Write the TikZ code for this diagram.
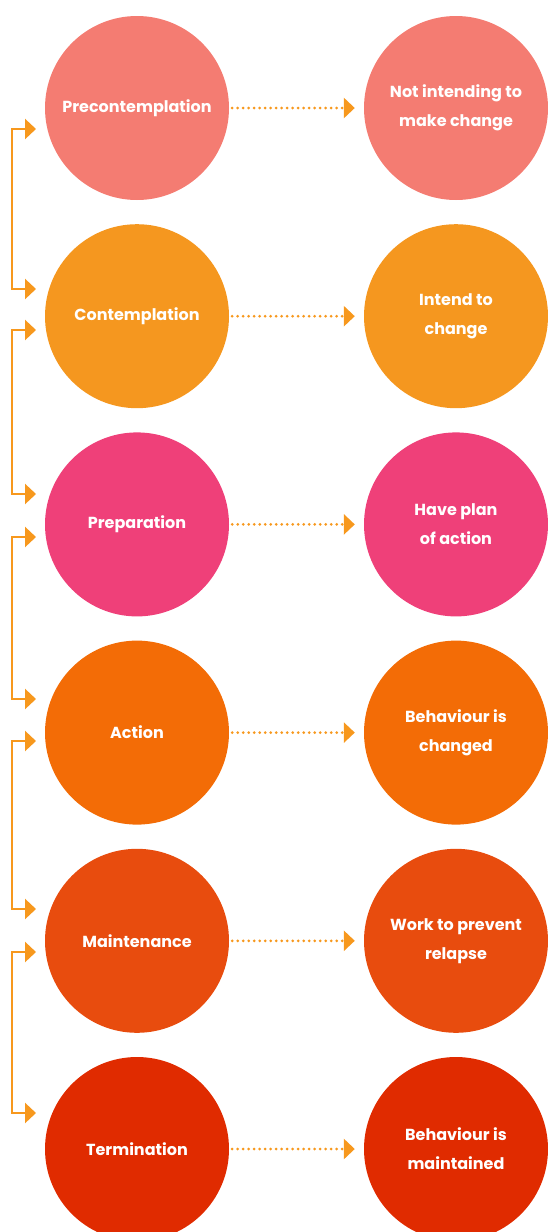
\documentclass[tikz,border=0pt]{standalone}
\usepackage{fontspec}
\setmainfont{Poppins}
\usetikzlibrary{positioning}
\usetikzlibrary{calc}
\usetikzlibrary{arrows.meta}
\definecolor{stagea}{HTML}{F47C72}
\definecolor{stageb}{HTML}{F5971F}
\definecolor{stagec}{HTML}{EF4079}
\definecolor{staged}{HTML}{F36C06}
\definecolor{stagee}{HTML}{E84C0E}
\definecolor{stagef}{HTML}{E02B00}
\definecolor{arrowc}{HTML}{F7981D}
\def\rowsep{208.2}
\def\rad{92}

\tikzset{
  stage/.style={circle,minimum size=2*\rad pt,inner sep=0pt,text=white,
    font=\bfseries\fontsize{16}{29}\selectfont,align=center},
  dotline/.style={draw=arrowc,line width=3pt,line cap=round,
    dash pattern=on 0pt off 5.5pt,shorten <=3pt,shorten >=9pt,
    -{Triangle[length=11pt,width=20pt,fill=arrowc,line cap=butt]}},
  bracket/.style={draw=arrowc,line width=2.5pt,
    {Triangle[length=11pt,width=20pt]}-{Triangle[length=11pt,width=20pt]}}
}

\begin{document}
\begin{tikzpicture}[x=1pt,y=-1pt]
\useasboundingbox (0,0) rectangle (547,1232);

\foreach \n/\col/\lname/\rname [count=\i from 0] in {
    pre/stagea/Precontemplation/{Not intending to\\make change},
    con/stageb/Contemplation/{Intend to\\change},
    prep/stagec/Preparation/{Have plan\\of action},
    act/staged/Action/{Behaviour is\\changed},
    main/stagee/Maintenance/{Work to prevent\\relapse},
    term/stagef/Termination/{Behaviour is\\maintained}}
{
  \node[stage,fill=\col] (l\n) at (137,108+\i*\rowsep) {\lname};
  \node[stage,fill=\col] (r\n) at (456,108+\i*\rowsep) {\rname};
  \draw[dotline] (l\n.east) -- (l\n.east -| r\n.west);
}

% feedback brackets between stages
\foreach \ya/\yb [count=\k] in {129/289, 330/494, 537/699, 741/909, 952/1113}
{
  \coordinate (up\k) at (36,\ya);
  \coordinate (dn\k) at (36,\yb);
  \draw[bracket] (up\k) -- ++(-24,0) |- (dn\k);
}
\end{tikzpicture}
\end{document}
